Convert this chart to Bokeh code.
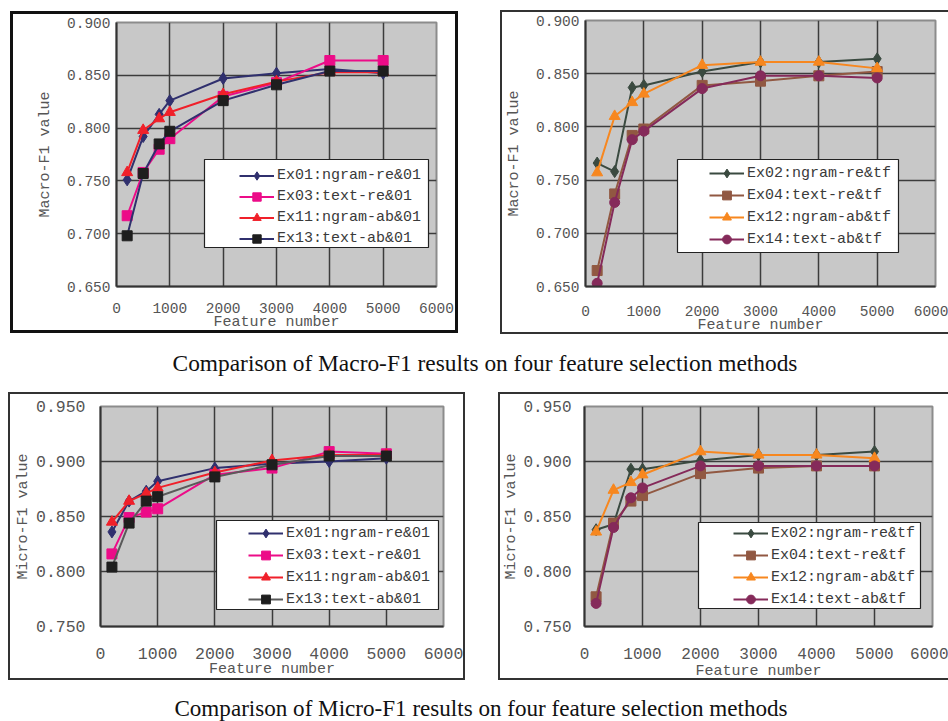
from bokeh.plotting import figure
from bokeh.models import (Range1d, FixedTicker, NumeralTickFormatter, Legend, LegendItem,
                          Div, BoxAnnotation)
from bokeh.layouts import row, column
from bokeh.embed import file_html
from bokeh.resources import INLINE

try:
    from bokeh.models import Node
except Exception:
    Node = None

# ---------------- data ----------------
features = [200, 500, 800, 1000, 2000, 3000, 4000, 5000]
x_ticks = [0, 1000, 2000, 3000, 4000, 5000, 6000]
macro_ticks = [0.65, 0.70, 0.75, 0.80, 0.85, 0.90]
micro_ticks = [0.75, 0.80, 0.85, 0.90, 0.95]

# Macro-F1, 01 weighting
macro_ex01 = [0.751, 0.792, 0.813, 0.826, 0.847, 0.852, 0.856, 0.852]
macro_ex03 = [0.717, 0.758, 0.780, 0.790, 0.830, 0.843, 0.864, 0.864]
macro_ex11 = [0.758, 0.798, 0.809, 0.815, 0.832, 0.844, 0.853, 0.853]
macro_ex13 = [0.698, 0.757, 0.785, 0.797, 0.826, 0.841, 0.854, 0.854]
# Macro-F1, tf weighting
macro_ex02 = [0.766, 0.758, 0.837, 0.839, 0.852, 0.861, 0.861, 0.864]
macro_ex04 = [0.665, 0.737, 0.792, 0.798, 0.839, 0.843, 0.848, 0.852]
macro_ex12 = [0.757, 0.810, 0.823, 0.831, 0.858, 0.861, 0.861, 0.855]
macro_ex14 = [0.653, 0.729, 0.788, 0.796, 0.836, 0.848, 0.848, 0.846]
# Micro-F1, 01 weighting
micro_ex01 = [0.836, 0.864, 0.873, 0.882, 0.894, 0.898, 0.900, 0.903]
micro_ex03 = [0.816, 0.849, 0.854, 0.857, 0.888, 0.894, 0.909, 0.907]
micro_ex11 = [0.845, 0.864, 0.871, 0.876, 0.890, 0.901, 0.906, 0.906]
micro_ex13 = [0.804, 0.844, 0.864, 0.868, 0.886, 0.897, 0.905, 0.905]
# Micro-F1, tf weighting
micro_ex02 = [0.838, 0.843, 0.893, 0.893, 0.901, 0.906, 0.906, 0.909]
micro_ex04 = [0.777, 0.844, 0.864, 0.869, 0.889, 0.894, 0.896, 0.896]
micro_ex12 = [0.836, 0.874, 0.881, 0.888, 0.909, 0.906, 0.906, 0.903]
micro_ex14 = [0.771, 0.840, 0.867, 0.876, 0.896, 0.896, 0.896, 0.896]

labels_01 = ["Ex01:ngram-re&01", "Ex03:text-re&01", "Ex11:ngram-ab&01", "Ex13:text-ab&01"]
labels_tf = ["Ex02:ngram-re&tf", "Ex04:text-re&tf", "Ex12:ngram-ab&tf", "Ex14:text-ab&tf"]
captions = ["Comparison of Macro-F1 results on four feature selection methods",
            "Comparison of Micro-F1 results on four feature selection methods"]

MONO = "Liberation Mono"
SERIF = "Liberation Serif"


def make_panel(series, y_ticks, y_label, geom):
    p = figure(width=geom["w"], height=geom["h"], output_backend="svg", toolbar_location=None,
               x_range=Range1d(0, 6000), y_range=Range1d(y_ticks[0], y_ticks[-1]),
               min_border_left=geom["bl"], min_border_right=geom["br"],
               min_border_top=geom["bt"], min_border_bottom=geom["bb"],
               background_fill_color="#c8c8c8", border_fill_color="white",
               margin=geom["margin"])
    st = {"border": "%dpx solid %s" % (geom["bw"], geom["bc"])}
    if geom.get("open_right"):
        st["border-right"] = "none"
    p.styles = st
    p.outline_line_color = "#8c8c8c"
    p.outline_line_width = 2

    p.xaxis.ticker = FixedTicker(ticks=x_ticks)
    p.yaxis.ticker = FixedTicker(ticks=y_ticks)
    p.yaxis.formatter = NumeralTickFormatter(format="0.000")
    for ax in (p.xaxis, p.yaxis):
        ax.axis_line_color = "#333333"
        ax.axis_line_width = 2
        ax.major_tick_line_color = None
        ax.minor_tick_line_color = None
        ax.major_tick_out = 0
        ax.major_tick_in = 0
        ax.minor_tick_out = 0
        ax.minor_tick_in = 0
        ax.major_label_text_font = MONO
        ax.major_label_text_font_size = geom["tick_fs"]
        ax.major_label_text_color = "#555555"
        ax.axis_label_text_font = MONO
        ax.axis_label_text_font_size = "15px"
        ax.axis_label_text_font_style = "normal"
        ax.axis_label_text_color = "#555555"
    p.xaxis.axis_label = "Feature number"
    p.yaxis.axis_label = y_label
    p.xaxis.major_label_standoff = geom["x_ls"]
    p.xaxis.axis_label_standoff = geom["x_as"]
    p.yaxis.major_label_standoff = geom["y_ls"]
    p.yaxis.axis_label_standoff = geom["y_as"]

    p.xgrid.grid_line_color = "#3c3c3c"
    p.ygrid.grid_line_color = "#3c3c3c"
    p.xgrid.grid_line_width = 1.5
    p.ygrid.grid_line_width = 1.5

    items = []
    for s in series:
        ln = p.line(features, s["y"], line_color=s["line"], line_width=2)
        mk = p.scatter(features, s["y"], marker=s["marker"], size=s["size"],
                       fill_color=s["fill"], line_color=s["fill"])
        items.append(LegendItem(label=s["label"], renderers=[ln, mk]))

    lb = geom["lbox"]
    if Node is not None:
        box = BoxAnnotation(left=Node(target="frame", symbol="left", offset=lb[0]),
                            right=Node(target="frame", symbol="left", offset=lb[1]),
                            top=Node(target="frame", symbol="top", offset=lb[2]),
                            bottom=Node(target="frame", symbol="top", offset=lb[3]),
                            fill_color="white", fill_alpha=1.0,
                            line_color="#222222", line_width=1.2, line_alpha=1.0)
        p.add_layout(box)
        border_color = None
        bg_alpha = 0.0
    else:
        border_color = "#222222"
        bg_alpha = 1.0

    legend = Legend(items=items, location=geom["lloc"], padding=0, margin=0, spacing=0,
                    glyph_width=35, glyph_height=geom["gh"], label_height=geom["gh"],
                    label_standoff=3, label_text_font=MONO, label_text_font_size="15px",
                    label_text_color="#3a3a3a", border_line_color=border_color,
                    background_fill_color="white", background_fill_alpha=bg_alpha)
    p.add_layout(legend)
    return p


navy = "#30306e"
s_01_macro = [
    dict(y=macro_ex01, label=labels_01[0], line=navy, fill=navy, marker="diamond", size=12),
    dict(y=macro_ex03, label=labels_01[1], line="#ec0c88", fill="#ec0c88", marker="square", size=10),
    dict(y=macro_ex11, label=labels_01[2], line="#f0202a", fill="#f0202a", marker="triangle", size=11),
    dict(y=macro_ex13, label=labels_01[3], line=navy, fill="#1e1e1e", marker="square", size=10),
]
s_tf_macro = [
    dict(y=macro_ex02, label=labels_tf[0], line="#3a4a40", fill="#3a4a40", marker="diamond", size=12),
    dict(y=macro_ex04, label=labels_tf[1], line="#915842", fill="#915842", marker="square", size=10),
    dict(y=macro_ex12, label=labels_tf[2], line="#f7871f", fill="#f7871f", marker="triangle", size=11),
    dict(y=macro_ex14, label=labels_tf[3], line="#852a5a", fill="#852a5a", marker="circle", size=10),
]
s_01_micro = [
    dict(y=micro_ex01, label=labels_01[0], line=navy, fill=navy, marker="diamond", size=12),
    dict(y=micro_ex03, label=labels_01[1], line="#ec0c88", fill="#ec0c88", marker="square", size=10),
    dict(y=micro_ex11, label=labels_01[2], line="#f0202a", fill="#f0202a", marker="triangle", size=11),
    dict(y=micro_ex13, label=labels_01[3], line="#5a5a5a", fill="#1e1e1e", marker="square", size=10),
]
s_tf_micro = [
    dict(y=micro_ex02, label=labels_tf[0], line="#3a4a40", fill="#3a4a40", marker="diamond", size=12),
    dict(y=micro_ex04, label=labels_tf[1], line="#915842", fill="#915842", marker="square", size=10),
    dict(y=micro_ex12, label=labels_tf[2], line="#f7871f", fill="#f7871f", marker="triangle", size=11),
    dict(y=micro_ex14, label=labels_tf[3], line="#852a5a", fill="#852a5a", marker="circle", size=10),
]

g1 = dict(w=448, h=322, bl=103, br=25, bt=8, bb=50, margin=(11, 0, 0, 10), bw=3, bc="#111111",
          tick_fs="14.5px", x_ls=16, x_as=-2, y_ls=6, y_as=10,
          lloc=(123, 37), gh=21, lbox=(88, 312, 137, 225))
g2 = dict(w=448, h=324, bl=83, br=15, bt=8, bb=46, margin=(10, 0, 0, 42), bw=2, bc="#333333",
          open_right=True, tick_fs="14.5px", x_ls=19, x_as=-2, y_ls=6, y_as=10,
          lloc=(124, 36), gh=22, lbox=(92, 313, 139, 232))
g3 = dict(w=457, h=288, bl=90, br=24, bt=12, bb=54, margin=(0, 0, 0, 8), bw=2, bc="#333333",
          tick_fs="16.5px", x_ls=21, x_as=-1, y_ls=15, y_as=1,
          lloc=(148, 16), gh=22, lbox=(116, 338, 114, 203))
g4 = dict(w=450, h=288, bl=84, br=18, bt=12, bb=54, margin=(0, 0, 0, 33), bw=2, bc="#333333",
          open_right=True, tick_fs="16px", x_ls=21, x_as=1, y_ls=13, y_as=0,
          lloc=(149, 16), gh=22, lbox=(114, 336, 116, 202))

p1 = make_panel(s_01_macro, macro_ticks, "Macro-F1 value", g1)
p2 = make_panel(s_tf_macro, macro_ticks, "Macro-F1 value", g2)
p3 = make_panel(s_01_micro, micro_ticks, "Micro-F1 value", g3)
p4 = make_panel(s_tf_micro, micro_ticks, "Micro-F1 value", g4)

cap_style = {"font-family": SERIF, "color": "#111111",
             "text-align": "center", "white-space": "nowrap"}
cap1 = Div(text=captions[0], width=900, height=58, margin=(0, 0, 0, 35),
           styles=dict(cap_style, **{"line-height": "58px", "font-size": "23.4px"}))
cap2 = Div(text='<div style="padding-top:17px;line-height:22px">%s</div>' % captions[1],
           width=900, height=40, margin=(0, 0, 0, 31),
           styles=dict(cap_style, **{"font-size": "23.1px"}))

layout = column(row(p1, p2), cap1, row(p3, p4), cap2)

with open("out.html", "w") as f:
    f.write(file_html(layout, INLINE))
